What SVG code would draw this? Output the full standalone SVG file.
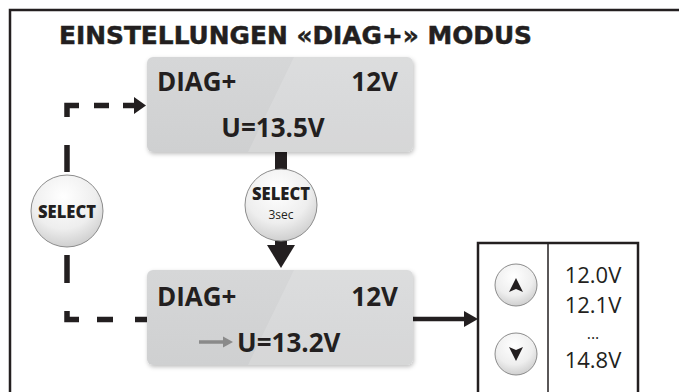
<svg xmlns="http://www.w3.org/2000/svg" width="679" height="392" viewBox="0 0 679 392">
<style>
.ink{fill:#231f20}
.title{font-family:"DejaVu Sans",Verdana,sans-serif;font-weight:bold;font-size:24.5px;fill:#231f20;stroke:#231f20;stroke-width:0.5}
.lcd{font-family:"Open Sans","Noto Sans",sans-serif;font-weight:700;font-size:26px;fill:#231f20}
.btn{font-family:"Open Sans","Noto Sans",sans-serif;font-weight:800;font-size:18px;fill:#231f20;text-anchor:middle}
.small{font-family:"Open Sans","Noto Sans",sans-serif;font-size:12px;fill:#231f20;text-anchor:middle}
.val{font-family:"Open Sans","Noto Sans",sans-serif;font-size:22px;fill:#231f20;text-anchor:middle}
.dash{stroke:#231f20;stroke-width:5.5;fill:none}
.solid{stroke:#231f20;fill:none}
.circ{fill:url(#cg);stroke:#8c8c8c;stroke-width:1}
</style>
<defs>
<linearGradient id="bg" x1="0" y1="0" x2="0" y2="1">
<stop offset="0" stop-color="#d6d7d8"/>
<stop offset="1" stop-color="#cfd0d1"/>
</linearGradient>
<radialGradient id="cg" cx="0.45" cy="0.3" r="0.75">
<stop offset="0" stop-color="#ffffff"/>
<stop offset="0.6" stop-color="#eeeeee"/>
<stop offset="1" stop-color="#c9c9c9"/>
</radialGradient>
<filter id="sh" x="-10%" y="-10%" width="120%" height="130%">
<feDropShadow dx="1" dy="2" stdDeviation="2" flood-color="#000" flood-opacity="0.25"/>
</filter>
</defs>

<rect x="10" y="10" width="700" height="400" fill="none" stroke="#231f20" stroke-width="2.5"/>
<text class="title" x="59" y="44" textLength="473" lengthAdjust="spacingAndGlyphs">EINSTELLUNGEN «DIAG+» MODUS</text>

<g id="connectors">
<path class="dash" d="M67,117 V105.5 H79 M94,105.5 H109 M123,105.5 H136"/>
<polygon class="ink" points="134,97 146,105.5 134,114"/>
<path class="dash" d="M67,145 V172 M67,255 V283 M67,311 V319.5 H79 M97,319.5 H113 M135,319.5 H147"/>
<rect class="ink" x="275" y="150" width="12" height="20"/>
<rect class="ink" x="275" y="232" width="12" height="16"/>
<polygon class="ink" points="267,245 295,245 281,268"/>
<line class="solid" x1="413" y1="319" x2="466" y2="319" stroke-width="4.5"/>
<polygon class="ink" points="464,311 478,319 464,327"/>
</g>

<g id="box1">
<rect x="147" y="57" width="266" height="95" rx="6" fill="url(#bg)" filter="url(#sh)"/>
<path d="M294,57 H407 a6,6 0 0 1 6,6 V146 a6,6 0 0 1 -6,6 H248 Z" fill="#ffffff" opacity="0.15"/>
<text class="lcd" x="157" y="91">DIAG+</text>
<text class="lcd" x="398" y="91" text-anchor="end">12V</text>
<text class="lcd" x="273" y="137" text-anchor="middle">U=13.5V</text>
</g>

<g id="box2">
<rect x="147" y="270" width="266" height="95" rx="6" fill="url(#bg)" filter="url(#sh)"/>
<path d="M294,270 H407 a6,6 0 0 1 6,6 V359 a6,6 0 0 1 -6,6 H248 Z" fill="#ffffff" opacity="0.15"/>
<text class="lcd" x="157" y="306">DIAG+</text>
<text class="lcd" x="398" y="306" text-anchor="end">12V</text>
<line x1="199" y1="342" x2="225" y2="342" stroke="#8a8a8a" stroke-width="3.5"/>
<polygon points="223,336.5 233,342 223,347.5" fill="#8a8a8a"/>
<text class="lcd" x="237" y="352">U=13.2V</text>
</g>

<g id="select-left">
<circle class="circ" cx="67" cy="211" r="36"/>
<text class="btn" x="67" y="218" textLength="58" lengthAdjust="spacingAndGlyphs">SELECT</text>
</g>

<g id="select-3sec">
<circle class="circ" cx="281" cy="205" r="36"/>
<text class="btn" x="281" y="200" textLength="58" lengthAdjust="spacingAndGlyphs">SELECT</text>
<text class="small" x="281" y="219">3sec</text>
</g>

<g id="panel">
<rect x="478" y="243" width="160" height="160" fill="#ffffff" stroke="#231f20" stroke-width="2.5"/>
<line x1="548" y1="243" x2="548" y2="392" stroke="#231f20" stroke-width="1.5"/>
<circle class="circ" cx="516" cy="285" r="21"/>
<polygon class="ink" points="516,278 523,292 516,289 509,292"/>
<circle class="circ" cx="516" cy="354" r="21"/>
<polygon class="ink" points="516,361 523,347 516,350 509,347"/>
<text class="val" x="593" y="283">12.0V</text>
<text class="val" x="593" y="313">12.1V</text>
<text class="val" x="593" y="339" style="font-size:16px">...</text>
<text class="val" x="593" y="368">14.8V</text>
</g>
</svg>
